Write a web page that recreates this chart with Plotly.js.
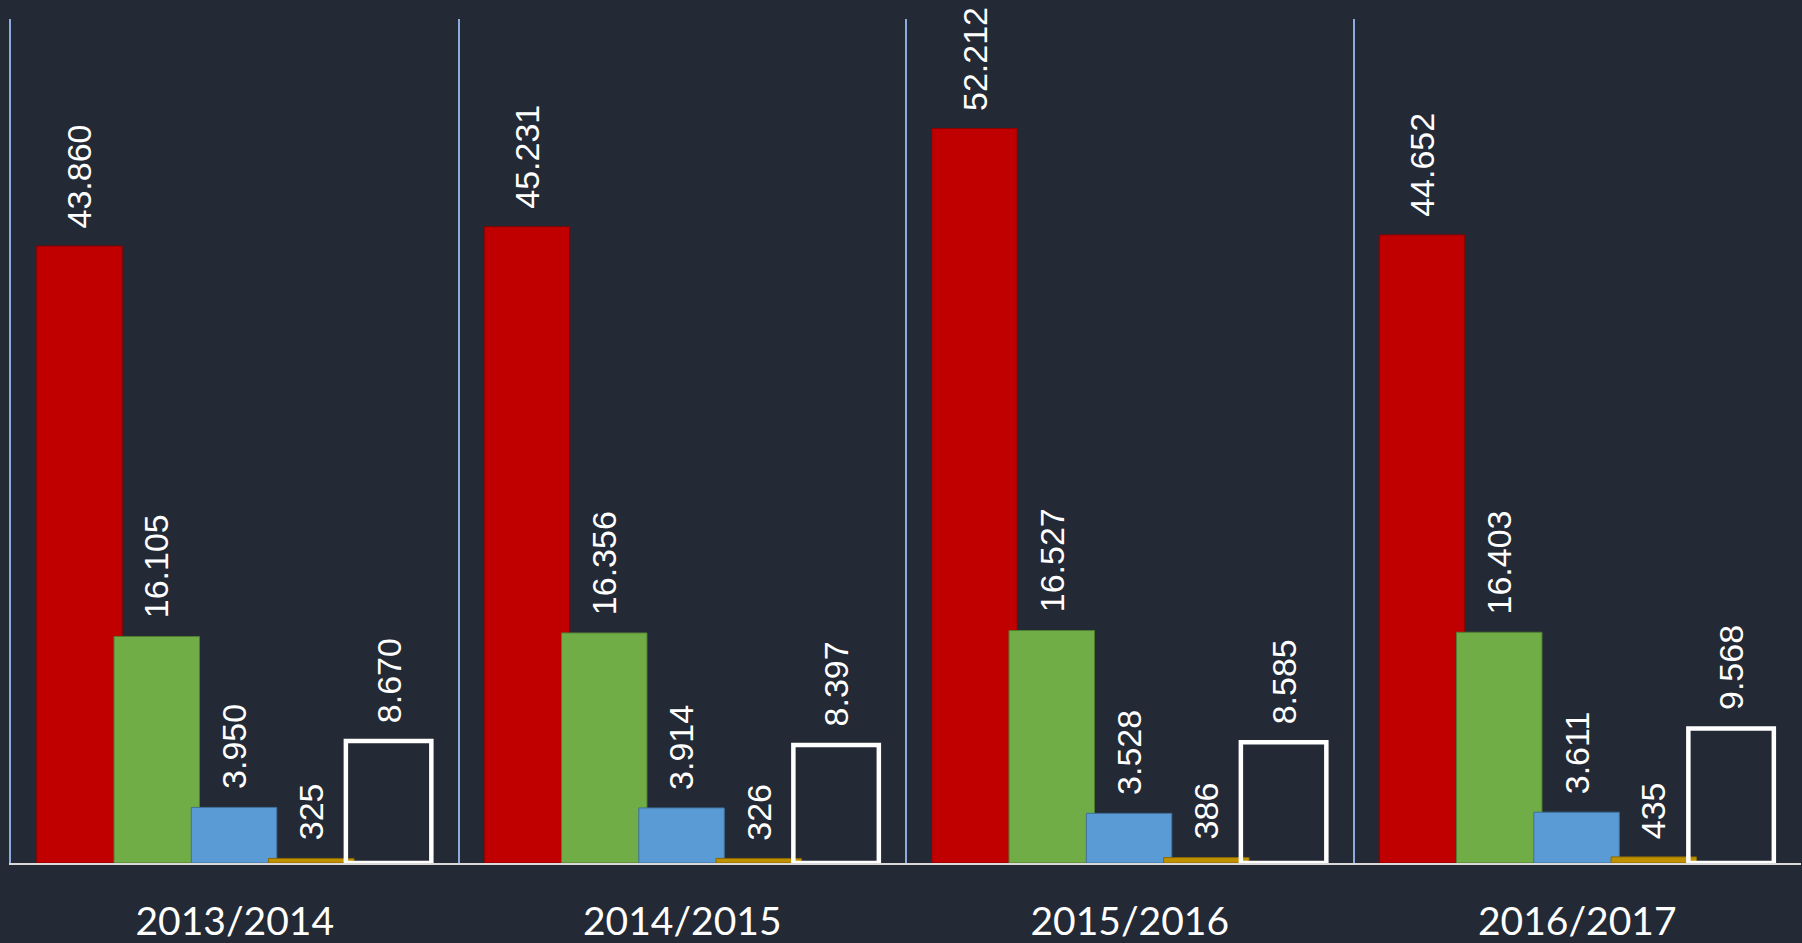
<!DOCTYPE html>
<html>
<head>
<meta charset="utf-8">
<script src="https://cdn.plot.ly/plotly-3.0.1.min.js"></script>
<style>
  html, body { margin: 0; padding: 0; background: #232935; }
  #chart { width: 1802px; height: 943px; }
</style>
</head>
<body>
<div id="chart"></div>
<script>
// ---- data ----
const years = ['2013/2014', '2014/2015', '2015/2016', '2016/2017'];
const serie1 = [43860, 45231, 52212, 44652];
const serie2 = [16105, 16356, 16527, 16403];
const serie3 = [3950, 3914, 3528, 3611];
const serie4 = [325, 326, 386, 435];
const serie5 = [8670, 8397, 8585, 9568];

// ---- styling ----
const bg = '#232935';
const series = [serie1, serie2, serie3, serie4, serie5];
const fills = ['#c00000', '#70ad47', '#5b9bd5', '#bf9000', 'rgba(0,0,0,0)'];
const edges = ['#8a0000', '#507d33', '#41709b', '#8a6800', '#ffffff'];
const edgeW = [1, 1, 1, 1, 4.5];
const barW = 0.191;
const firstOff = -0.4425;
const pitch = 0.1727;

function fmt(v) {
  return String(v).replace(/\B(?=(\d{3})+(?!\d))/g, '.');
}

const traces = series.map((vals, j) => ({
  type: 'bar',
  x: years,
  y: vals,
  width: barW,
  offset: firstOff + j * pitch,
  marker: { color: fills[j], line: { color: edges[j], width: edgeW[j] } },
  hoverinfo: 'x+y',
  showlegend: false
}));

const annotations = [];
series.forEach((vals, j) => {
  vals.forEach((v, i) => {
    annotations.push({
      xref: 'x', yref: 'y',
      x: i + firstOff + j * pitch + barW / 2,
      y: v,
      text: fmt(v),
      textangle: -90,
      showarrow: false,
      xanchor: 'center',
      yanchor: 'bottom',
      yshift: 16,
      font: { family: 'Liberation Sans, Arial, sans-serif', size: 34, color: '#ffffff' }
    });
  });
});

const layout = {
  width: 1802,
  height: 943,
  paper_bgcolor: bg,
  plot_bgcolor: bg,
  margin: { l: 11, r: 1, t: 19, b: 80 },
  barmode: 'overlay',
  xaxis: {
    type: 'category',
    range: [-0.5, 3.5],
    tickson: 'boundaries',
    showgrid: true,
    gridcolor: '#8faadc',
    gridwidth: 2,
    showline: true,
    linecolor: '#d9d9d9',
    linewidth: 2,
    ticks: '',
    ticklabelstandoff: 23,
    tickfont: { family: 'Lato, Open Sans, sans-serif', size: 39, color: '#ffffff' },
    zeroline: false,
    fixedrange: true
  },
  yaxis: {
    range: [0, 60000],
    showgrid: false,
    zeroline: false,
    showticklabels: false,
    ticks: '',
    showline: true,
    linecolor: '#8faadc',
    linewidth: 2,
    fixedrange: true
  },
  annotations: annotations
};

Plotly.newPlot('chart', traces, layout, { displayModeBar: false, staticPlot: true });
</script>
</body>
</html>
